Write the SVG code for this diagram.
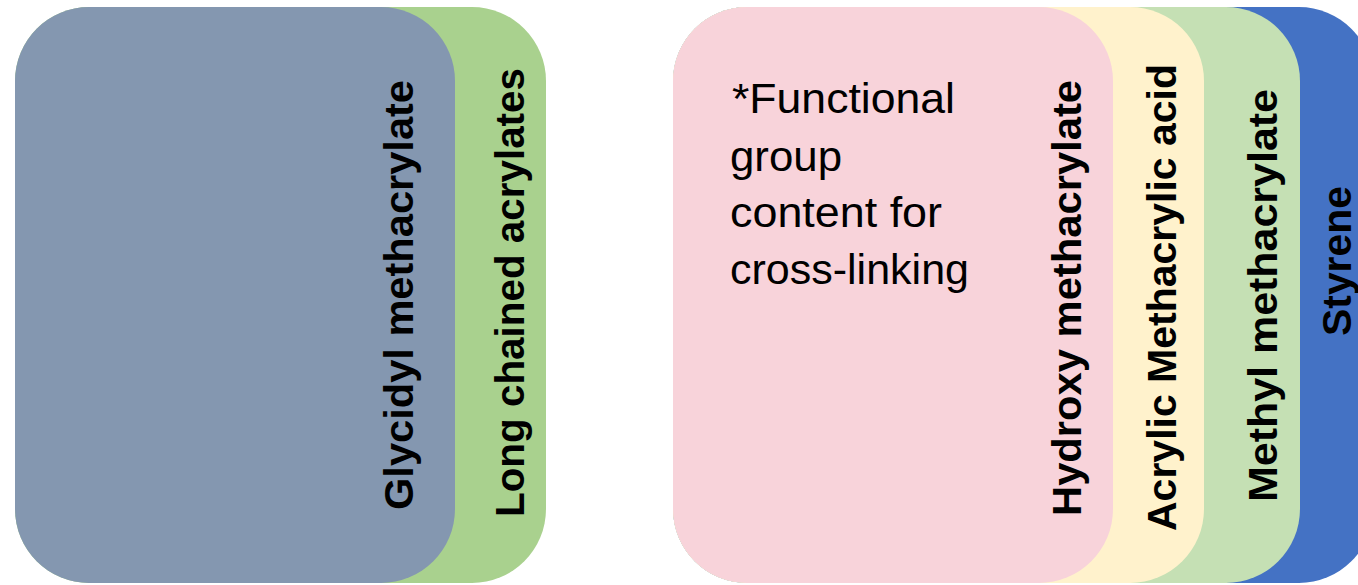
<svg xmlns="http://www.w3.org/2000/svg" width="1358" height="585" viewBox="0 0 1358 585">
<style>
.lbl{font-family:"Liberation Sans",Arial,sans-serif;font-weight:bold;font-size:41px;fill:#000;}
.body{font-family:"Liberation Sans",Arial,sans-serif;font-size:43px;fill:#000;}
</style>
<rect width="1358" height="585" fill="#ffffff"/>
<g id="long-chained-acrylates">
<rect x="15" y="7" width="531" height="576" rx="74" ry="74" fill="#A9D18E"/>
<text class="lbl" transform="translate(524,517) rotate(-90)" textLength="449" lengthAdjust="spacingAndGlyphs">Long chained acrylates</text>
</g>
<g id="glycidyl-methacrylate">
<rect x="15" y="7" width="440" height="576" rx="74" ry="74" fill="#8497B0"/>
<text class="lbl" transform="translate(413,510) rotate(-90)" textLength="430" lengthAdjust="spacingAndGlyphs">Glycidyl methacrylate</text>
</g>
<g id="styrene">
<rect x="673" y="7" width="700" height="576" rx="74" ry="74" fill="#4472C4"/>
<text class="lbl" transform="translate(1351,336) rotate(-90)" textLength="150" lengthAdjust="spacingAndGlyphs">Styrene</text>
</g>
<g id="methyl-methacrylate">
<rect x="673" y="7" width="627" height="576" rx="74" ry="74" fill="#C5E0B4"/>
<text class="lbl" transform="translate(1277,502) rotate(-90)" textLength="413" lengthAdjust="spacingAndGlyphs">Methyl methacrylate</text>
</g>
<g id="acrylic-methacrylic-acid">
<rect x="673" y="7" width="531" height="576" rx="74" ry="74" fill="#FFF2CC"/>
<text class="lbl" transform="translate(1176,531) rotate(-90)" textLength="467" lengthAdjust="spacingAndGlyphs">Acrylic Methacrylic acid</text>
</g>
<g id="hydroxy-methacrylate">
<rect x="673" y="7" width="440" height="576" rx="74" ry="74" fill="#F8D3DA"/>
<text class="lbl" transform="translate(1081,516) rotate(-90)" textLength="436" lengthAdjust="spacingAndGlyphs">Hydroxy methacrylate</text>
<text class="body">
<tspan x="732" y="113" textLength="223" lengthAdjust="spacingAndGlyphs">*Functional</tspan>
<tspan x="730" y="171" textLength="112" lengthAdjust="spacingAndGlyphs">group</tspan>
<tspan x="730" y="227" textLength="212" lengthAdjust="spacingAndGlyphs">content for</tspan>
<tspan x="730" y="284" textLength="239" lengthAdjust="spacingAndGlyphs">cross-linking</tspan>
</text>
</g>
<g id="connectors"/>
</svg>
